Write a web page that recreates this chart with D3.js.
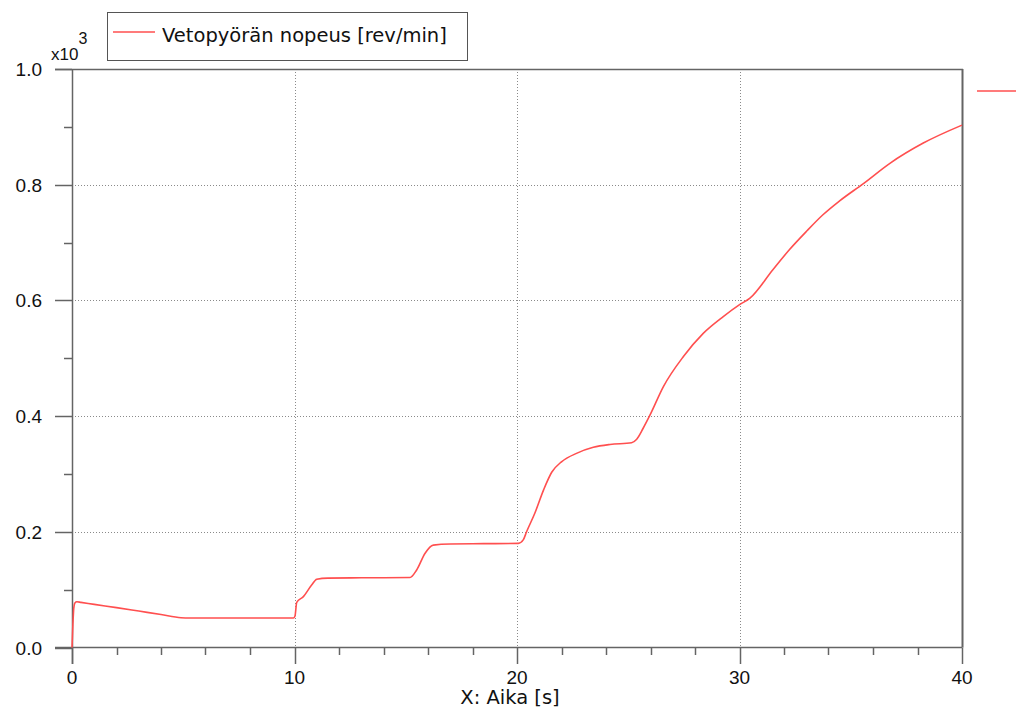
<!DOCTYPE html>
<html><head><meta charset="utf-8">
<script src="https://cdn.jsdelivr.net/npm/d3@7"></script>
<style>body{margin:0;background:#fff;} svg{display:block;}</style>
</head><body>
<svg id="c" width="1016" height="716"></svg>
<script>
// Data (speed in x10^3 rev/min)
const time  = [0, 0.04, 0.08, 0.13, 0.22, 0.4, 1, 2, 3, 4, 4.9, 5.3, 8, 9.95, 10.02, 10.1, 10.4, 10.77, 11.0, 11.5, 13, 15.19, 15.49, 15.87, 16.24, 17.0, 18.5, 20.06, 20.28, 20.43, 20.8, 21.2, 21.56, 22.0, 22.7, 23.43, 24.18, 25.15, 25.38, 25.67, 25.98, 26.58, 27.48, 28.37, 29.27, 30.02, 30.47, 31.5, 32.25, 33.0, 33.75, 34.5, 35.57, 36.76, 38.26, 40.0];
const speed = [0.0, 0.04, 0.068, 0.077, 0.079, 0.078, 0.0745, 0.069, 0.063, 0.057, 0.0515, 0.051, 0.051, 0.051, 0.054, 0.078, 0.088, 0.108, 0.118, 0.120, 0.1205, 0.121, 0.134, 0.163, 0.177, 0.179, 0.1795, 0.180, 0.186, 0.200, 0.232, 0.273, 0.303, 0.321, 0.336, 0.346, 0.351, 0.354, 0.360, 0.379, 0.402, 0.451, 0.503, 0.543, 0.572, 0.593, 0.604, 0.653, 0.688, 0.719, 0.748, 0.772, 0.802, 0.837, 0.872, 0.903];
const xMajor = [0, 10, 20, 30, 40];
const yMajor = [0.0, 0.2, 0.4, 0.6, 0.8, 1.0];
const yTickLabels = ["0.0", "0.2", "0.4", "0.6", "0.8", "1.0"];
const legendLabel = "Vetopyörän nopeus [rev/min]";
const xTitle = "X: Aika [s]";

const svg = d3.select("#c");
const L = 72, R = 962, T = 69, B = 647.5;
const x = d3.scaleLinear().domain([0, 40]).range([L, R]);
const y = d3.scaleLinear().domain([0, 1]).range([B, T]);
const numFont = "Liberation Sans, Arial, sans-serif";
const txtFont = "DejaVu Sans, sans-serif";
const red = "#ff4f4f";
const axisCol = "#646464";

// grid
const g = svg.append("g");
g.selectAll(".vg").data([10, 20, 30]).enter().append("line")
  .attr("x1", d => Math.round(x(d)) + 0.5).attr("x2", d => Math.round(x(d)) + 0.5)
  .attr("y1", T).attr("y2", B).attr("stroke", "#8a8a8a").attr("stroke-width", 1).attr("stroke-dasharray", "1,2");
g.selectAll(".hg").data([0.2, 0.4, 0.6, 0.8]).enter().append("line")
  .attr("y1", d => Math.round(y(d)) + 0.5).attr("y2", d => Math.round(y(d)) + 0.5)
  .attr("x1", L).attr("x2", R).attr("stroke", "#8a8a8a").attr("stroke-width", 1).attr("stroke-dasharray", "1,2");

// y axis ticks (left)
const yMinor = d3.range(0, 1.0001, 0.1);
svg.selectAll(".yt").data(yMinor).enter().append("line")
  .attr("x1", (d, i) => i % 2 === 0 ? 55 : 64).attr("x2", L)
  .attr("y1", d => Math.round(y(d)) + 0.5).attr("y2", d => Math.round(y(d)) + 0.5)
  .attr("stroke", axisCol).attr("stroke-width", 1.5);
// x axis ticks (bottom)
const xMinor = d3.range(0, 40.001, 2);
svg.selectAll(".xt").data(xMinor).enter().append("line")
  .attr("x1", d => Math.round(x(d)) + 0.5).attr("x2", d => Math.round(x(d)) + 0.5)
  .attr("y1", B).attr("y2", d => d % 10 === 0 ? 664 : 655)
  .attr("stroke", axisCol).attr("stroke-width", 1.5);

// axes & borders
svg.append("line").attr("x1", L + 0.5).attr("x2", L + 0.5).attr("y1", T).attr("y2", 664).attr("stroke", axisCol).attr("stroke-width", 1.5);
svg.append("line").attr("x1", 55).attr("x2", R).attr("y1", B).attr("y2", B).attr("stroke", axisCol).attr("stroke-width", 1.5);
svg.append("line").attr("x1", 55).attr("x2", R + 1).attr("y1", T + 0.5).attr("y2", T + 0.5).attr("stroke", axisCol).attr("stroke-width", 1.5);
svg.append("line").attr("x1", R + 0.5).attr("x2", R + 0.5).attr("y1", T).attr("y2", B).attr("stroke", axisCol).attr("stroke-width", 2);

// tick labels
svg.selectAll(".yl").data(yMajor).enter().append("text")
  .attr("x", 42).attr("y", d => y(d) + 7).attr("text-anchor", "end")
  .attr("font-family", numFont).attr("font-size", 19).attr("fill", "#111")
  .text((d, i) => yTickLabels[i]);
svg.selectAll(".xl").data(xMajor).enter().append("text")
  .attr("x", d => x(d)).attr("y", 684).attr("text-anchor", "middle")
  .attr("font-family", numFont).attr("font-size", 19).attr("fill", "#111")
  .text(d => d);
svg.append("text").attr("x", 510).attr("y", 704).attr("text-anchor", "middle")
  .attr("font-family", txtFont).attr("font-size", 19.5).attr("fill", "#111").text(xTitle);
const ex = svg.append("text").attr("x", 51).attr("y", 60)
  .attr("font-family", numFont).attr("font-size", 17).attr("fill", "#111");
ex.append("tspan").text("x10");
ex.append("tspan").attr("dy", -16).attr("font-size", 16).text("3");

// line
const line = d3.line().x((d, i) => x(time[i])).y((d, i) => y(speed[i])).curve(d3.curveMonotoneX);
svg.append("path").datum(speed).attr("d", line).attr("fill", "none")
  .attr("stroke", red).attr("stroke-width", 1.6);

// legend
svg.append("rect").attr("x", 107.5).attr("y", 12.5).attr("width", 360).attr("height", 48)
  .attr("fill", "#fff").attr("stroke", "#555").attr("stroke-width", 1);
svg.append("line").attr("x1", 113).attr("x2", 155).attr("y1", 32).attr("y2", 32).attr("stroke", red).attr("stroke-width", 1.5);
svg.append("text").attr("x", 162).attr("y", 42).attr("font-family", txtFont).attr("font-size", 19.5).attr("fill", "#111").text(legendLabel);

// right side marker
svg.append("line").attr("x1", 977).attr("x2", 1016).attr("y1", 91).attr("y2", 91).attr("stroke", red).attr("stroke-width", 1.5);
</script>
</body></html>
